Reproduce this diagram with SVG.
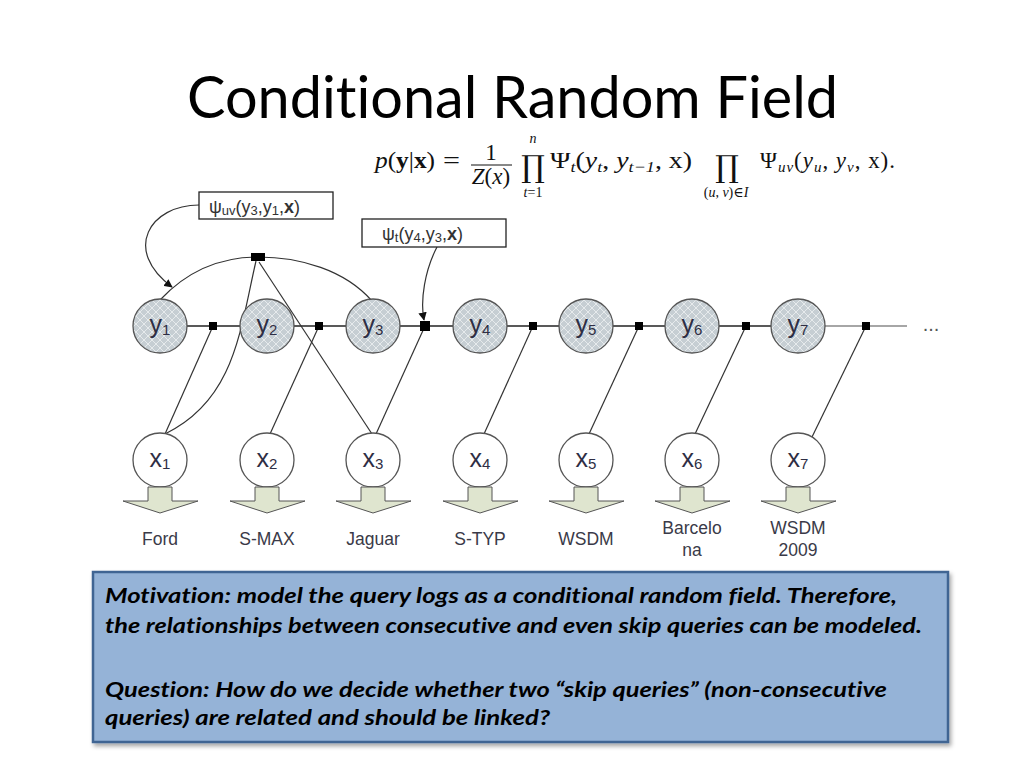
<svg xmlns="http://www.w3.org/2000/svg" width="1024" height="768" viewBox="0 0 1024 768">
<style>
text{font-variant-ligatures:none;font-feature-settings:"liga" 0,"clig" 0}
.title{font-family:Lato,"Open Sans","Liberation Sans",sans-serif;font-size:58px;fill:#000}
.ynode{fill:url(#hatch);stroke:#555;stroke-width:1.3}
.xnode{fill:#fff;stroke:#555;stroke-width:1.3}
.nl{font-family:"Liberation Sans",Arial,sans-serif;font-size:25px;fill:#2e2e44;text-anchor:middle}
.sub{font-size:15px}
.blk{fill:#dfe5cf;stroke:#555;stroke-width:1}
.lbl{font-family:"Liberation Sans",Arial,sans-serif;font-size:17.5px;fill:#3a3a48;text-anchor:middle}
.edge{fill:none;stroke:#333;stroke-width:1.2}
.fac{fill:#000}
.box{fill:#fff;stroke:#222;stroke-width:1.3}
.psi{font-family:"Liberation Sans",Arial,sans-serif;font-size:18px;fill:#333}
.fm{font-family:"Liberation Serif","DejaVu Serif",serif;font-size:23px;fill:#111}
.fs{font-family:"Liberation Serif","DejaVu Serif",serif;font-size:14px;fill:#111;text-anchor:middle}
.prod{font-family:"DejaVu Serif",serif;font-size:30px;fill:#111;text-anchor:middle}
.note{font-family:Lato,"Open Sans","Liberation Sans",sans-serif;font-size:21px;font-weight:bold;font-style:italic;fill:#000}
</style>
<defs>
<pattern id="hatch" width="8" height="8" patternUnits="userSpaceOnUse">
<rect width="8" height="8" fill="#c6ced3"/>
<path d="M0,4 L4,0 L8,4 L4,8 Z" fill="none" stroke="#e6eaec" stroke-width="1"/>
</pattern>
<marker id="arr" viewBox="0 0 10 10" refX="9" refY="5" markerWidth="7" markerHeight="7" orient="auto">
<path d="M0,0 L10,5 L0,10 Z" fill="#111"/>
</marker>
<filter id="sh" x="-5%" y="-5%" width="110%" height="115%">
<feDropShadow dx="2" dy="3" stdDeviation="2" flood-color="#000" flood-opacity="0.35"/>
</filter>
</defs>
<rect width="1024" height="768" fill="#fff"/>

<text class="title" x="187" y="118" textLength="651" lengthAdjust="spacingAndGlyphs">Conditional Random Field</text>

<g id="formula">
<text class="fm" x="375" y="168" textLength="60" lengthAdjust="spacingAndGlyphs"><tspan font-style="italic">p</tspan>(<tspan font-weight="bold">y</tspan>|<tspan font-weight="bold">x</tspan>)</text>
<text class="fm" x="443" y="168" textLength="17" lengthAdjust="spacingAndGlyphs">=</text>
<text class="fm" x="491" y="160" text-anchor="middle" font-size="19">1</text>
<line x1="471" y1="165" x2="512" y2="165" stroke="#111" stroke-width="1"/>
<text class="fm" x="491" y="184" text-anchor="middle" font-size="19"><tspan font-style="italic">Z</tspan>(<tspan font-style="italic">x</tspan>)</text>
<text class="prod" x="533" y="177">∏</text>
<text class="fs" x="533" y="143" font-style="italic">n</text>
<text class="fs" x="533" y="197"><tspan font-style="italic">t</tspan>=1</text>
<text class="fm" x="550" y="168" textLength="142" lengthAdjust="spacingAndGlyphs">Ψ<tspan font-size="15" font-style="italic" dy="4">t</tspan><tspan dy="-4">(</tspan><tspan font-style="italic">y</tspan><tspan font-size="15" font-style="italic" dy="4">t</tspan><tspan dy="-4">, </tspan><tspan font-style="italic">y</tspan><tspan font-size="15" font-style="italic" dy="4">t−1</tspan><tspan dy="-4">, x)</tspan></text>
<text class="prod" x="727" y="177">∏</text>
<text class="fs" x="726" y="197">(<tspan font-style="italic">u</tspan>, <tspan font-style="italic">v</tspan>)∈<tspan font-style="italic">I</tspan></text>
<text class="fm" x="760" y="168" textLength="135" lengthAdjust="spacing">Ψ<tspan font-size="15" font-style="italic" dy="4">uv</tspan><tspan dy="-4">(</tspan><tspan font-style="italic">y</tspan><tspan font-size="15" font-style="italic" dy="4">u</tspan><tspan dy="-4">, </tspan><tspan font-style="italic">y</tspan><tspan font-size="15" font-style="italic" dy="4">v</tspan><tspan dy="-4">, x).</tspan></text>
</g>

<g id="connectors">
<line x1="160" y1="326" x2="825" y2="326" stroke="#222" stroke-width="1.3"/>
<line x1="825" y1="326" x2="907" y2="326" stroke="#888" stroke-width="1.3"/>
<path class="edge" d="M160,300 C190,268 225,257 258,257 C300,257 345,270 372,301"/>
<path class="edge" d="M256,261 C240,330 235,400 165,434"/>
<line class="edge" x1="259" y1="262" x2="372" y2="434"/>
<line class="edge" x1="213" y1="326" x2="165" y2="434"/>
<line class="edge" x1="319" y1="326" x2="270" y2="434"/>
<line class="edge" x1="425" y1="326" x2="376" y2="434"/>
<line class="edge" x1="533" y1="326" x2="484" y2="434"/>
<line class="edge" x1="639" y1="326" x2="589" y2="434"/>
<line class="edge" x1="746" y1="326" x2="695" y2="434"/>
<line class="edge" x1="866" y1="326" x2="812" y2="437"/>
<path class="edge" d="M199,205 C150,205 122,250 172,287" marker-end="url(#arr)"/>
<path class="edge" d="M437,247 C425,270 420,300 424,320" marker-end="url(#arr)"/>
<rect class="fac" x="251" y="253" width="14" height="8"/>
<rect class="fac" x="209" y="322" width="8" height="8"/>
<rect class="fac" x="315" y="322" width="8" height="8"/>
<rect class="fac" x="420" y="321" width="10" height="10"/>
<rect class="fac" x="529" y="322" width="8" height="8"/>
<rect class="fac" x="635" y="322" width="8" height="8"/>
<rect class="fac" x="742" y="322" width="8" height="8"/>
<rect class="fac" x="862" y="322" width="8" height="8"/>
<text x="931" y="331" font-family="Liberation Sans,sans-serif" font-size="20" fill="#555" text-anchor="middle">...</text>
</g>

<g id="psi_uv">
<rect class="box" x="199" y="192" width="134" height="27"/>
<text class="psi" x="209" y="213">ψ<tspan font-size="13" dy="2">uv</tspan><tspan dy="-2">(y</tspan><tspan font-size="13" dy="2">3</tspan><tspan dy="-2">,y</tspan><tspan font-size="13" dy="2">1</tspan><tspan dy="-2">,</tspan><tspan font-weight="bold">x</tspan>)</text>
</g>
<g id="psi_t">
<rect class="box" x="362" y="219" width="144" height="28"/>
<text class="psi" x="382" y="240">ψ<tspan font-size="13" dy="2">t</tspan><tspan dy="-2">(y</tspan><tspan font-size="13" dy="2">4</tspan><tspan dy="-2">,y</tspan><tspan font-size="13" dy="2">3</tspan><tspan dy="-2">,</tspan><tspan font-weight="bold">x</tspan>)</text>
</g>

<g id="y1"><circle class="ynode" cx="160" cy="326" r="27"/><text class="nl" x="160" y="333">y<tspan class="sub" dy="2">1</tspan></text></g>
<g id="y2"><circle class="ynode" cx="267" cy="326" r="27"/><text class="nl" x="267" y="333">y<tspan class="sub" dy="2">2</tspan></text></g>
<g id="y3"><circle class="ynode" cx="373" cy="326" r="27"/><text class="nl" x="373" y="333">y<tspan class="sub" dy="2">3</tspan></text></g>
<g id="y4"><circle class="ynode" cx="480" cy="326" r="27"/><text class="nl" x="480" y="333">y<tspan class="sub" dy="2">4</tspan></text></g>
<g id="y5"><circle class="ynode" cx="586" cy="326" r="27"/><text class="nl" x="586" y="333">y<tspan class="sub" dy="2">5</tspan></text></g>
<g id="y6"><circle class="ynode" cx="692" cy="326" r="27"/><text class="nl" x="692" y="333">y<tspan class="sub" dy="2">6</tspan></text></g>
<g id="y7"><circle class="ynode" cx="798" cy="326" r="27"/><text class="nl" x="798" y="333">y<tspan class="sub" dy="2">7</tspan></text></g>

<g id="x1"><circle class="xnode" cx="160" cy="460" r="27"/><text class="nl" x="160" y="467">x<tspan class="sub" dy="2">1</tspan></text>
<path class="blk" d="M148,487 L172,487 L172,501 L198,501 L160,513 L123,501 L148,501 Z"/><text class="lbl" x="160" y="545">Ford</text></g>
<g id="x2"><circle class="xnode" cx="267" cy="460" r="27"/><text class="nl" x="267" y="467">x<tspan class="sub" dy="2">2</tspan></text>
<path class="blk" d="M255,487 L279,487 L279,501 L305,501 L267,513 L230,501 L255,501 Z"/><text class="lbl" x="267" y="545">S-MAX</text></g>
<g id="x3"><circle class="xnode" cx="373" cy="460" r="27"/><text class="nl" x="373" y="467">x<tspan class="sub" dy="2">3</tspan></text>
<path class="blk" d="M361,487 L385,487 L385,501 L411,501 L373,513 L336,501 L361,501 Z"/><text class="lbl" x="373" y="545">Jaguar</text></g>
<g id="x4"><circle class="xnode" cx="480" cy="460" r="27"/><text class="nl" x="480" y="467">x<tspan class="sub" dy="2">4</tspan></text>
<path class="blk" d="M468,487 L492,487 L492,501 L518,501 L480,513 L443,501 L468,501 Z"/><text class="lbl" x="480" y="545">S-TYP</text></g>
<g id="x5"><circle class="xnode" cx="586" cy="460" r="27"/><text class="nl" x="586" y="467">x<tspan class="sub" dy="2">5</tspan></text>
<path class="blk" d="M574,487 L598,487 L598,501 L624,501 L586,513 L549,501 L574,501 Z"/><text class="lbl" x="586" y="545">WSDM</text></g>
<g id="x6"><circle class="xnode" cx="692" cy="460" r="27"/><text class="nl" x="692" y="467">x<tspan class="sub" dy="2">6</tspan></text>
<path class="blk" d="M680,487 L704,487 L704,501 L730,501 L692,513 L655,501 L680,501 Z"/><text class="lbl" x="692" y="534">Barcelo</text><text class="lbl" x="692" y="556">na</text></g>
<g id="x7"><circle class="xnode" cx="798" cy="460" r="27"/><text class="nl" x="798" y="467">x<tspan class="sub" dy="2">7</tspan></text>
<path class="blk" d="M786,487 L810,487 L810,501 L836,501 L798,513 L761,501 L786,501 Z"/><text class="lbl" x="798" y="534">WSDM</text><text class="lbl" x="798" y="556">2009</text></g>

<g id="note">
<rect x="93" y="572" width="855" height="170" fill="#95b3d7" stroke="#3f6593" stroke-width="2.5" filter="url(#sh)"/>
<text class="note" x="105" y="603" textLength="792" lengthAdjust="spacingAndGlyphs">Motivation: model the query logs as a conditional random field. Therefore,</text>
<text class="note" x="105" y="633" textLength="817" lengthAdjust="spacingAndGlyphs">the relationships between consecutive and even skip queries can be modeled.</text>
<text class="note" x="105" y="697" textLength="782" lengthAdjust="spacingAndGlyphs">Question: How do we decide whether two “skip queries” (non-consecutive</text>
<text class="note" x="105" y="725" textLength="445" lengthAdjust="spacingAndGlyphs">queries) are related and should be linked?</text>
</g>
</svg>
